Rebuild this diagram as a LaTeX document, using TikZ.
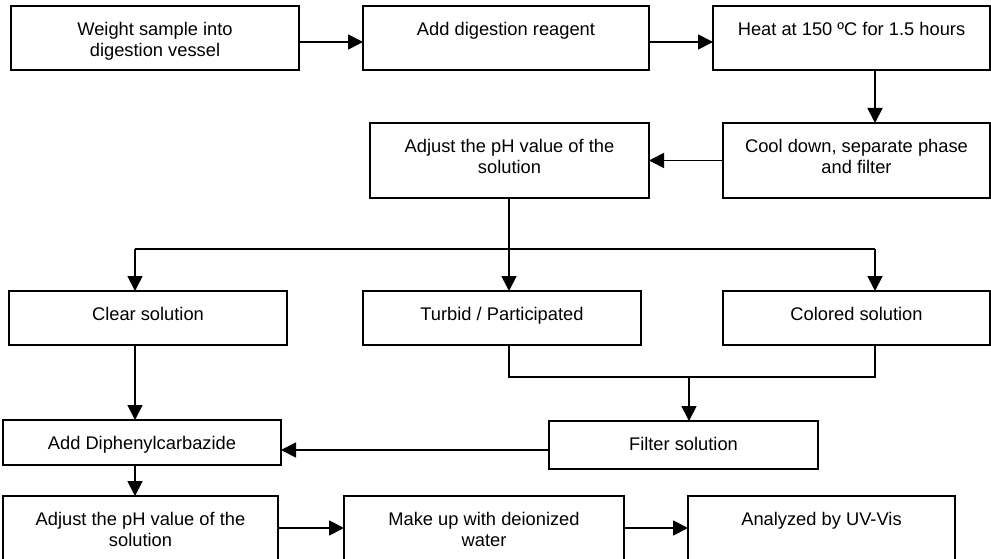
\documentclass[tikz,border=0pt]{standalone}
\usepackage{fontspec}
\setmainfont{Liberation Sans}
\usetikzlibrary{arrows.meta,fit}
\tikzset{
  boxst/.style={draw, line width=1.8pt, inner sep=0pt, outer sep=0pt},
  txt/.style={align=center, inner sep=0pt, anchor=north, font=\fontsize{18.3}{21}\selectfont},
  conn/.style={line width=1.8pt},
  arr/.style={conn, -{Triangle[length=15pt,width=15pt]}}
}
\newcommand{\flowbox}[6]{%
  \node[boxst, fit={(#2,#3) (#4,#5)}] (#1) {};
  \node[txt] (#1-t) at ([yshift=-16pt]#1.north) {#6};
}
\begin{document}
\begin{tikzpicture}[x=1pt,y=-1pt]
\clip (0,0) rectangle (991,559);
\fill[white] (0,0) rectangle (991,559);

\flowbox{b1}{11}{6}{299}{70}{Weight sample into\\digestion vessel}
\flowbox{b2}{363}{6}{649}{70}{Add digestion reagent}
\flowbox{b3}{713}{6}{990}{70}{Heat at 150 ºC for 1.5 hours}
\flowbox{cool}{723}{123}{990}{198}{Cool down, separate phase\\and filter}
\flowbox{adj1}{370}{123}{649}{198}{Adjust the pH value of the\\solution}
\flowbox{clear}{9}{291}{287}{345}{Clear solution}
\flowbox{turbid}{363}{291}{641}{345}{Turbid / Participated}
\flowbox{colored}{723}{291}{990}{345}{Colored solution}
\flowbox{filter}{549}{421}{818}{469}{Filter solution}
\flowbox{adddiph}{3}{420}{281}{465}{Add Diphenylcarbazide}
\flowbox{adj2}{3}{496}{278}{575}{Adjust the pH value of the\\solution}
\flowbox{makeup}{344}{496}{624}{575}{Make up with deionized\\water}
\flowbox{uv}{688}{496}{955}{575}{Analyzed by UV-Vis}

\coordinate (r1) at (0,42);
\coordinate (c3) at (875,0);
\coordinate (jL) at (135,249);
\coordinate (jM) at (509,249);
\coordinate (jR) at (875,249);
\coordinate (kL) at (509,377);
\coordinate (kM) at (689,377);
\coordinate (kR) at (875,377);
\coordinate (fy) at (0,450);
\coordinate (r5) at (0,528);

\draw[arr] (b1.east |- r1) -- (b2.west |- r1);
\draw[arr] (b2.east |- r1) -- (b3.west |- r1);
\draw[arr] (c3 |- b3.south) -- (c3 |- cool.north);
\draw[arr] (cool.west) -- (adj1.east);
\draw[arr] (jM |- adj1.south) -- (jM |- turbid.north);
\draw[conn] (jL) -- (jR);
\draw[arr] (jL) -- (jL |- clear.north);
\draw[arr] (jR) -- (jR |- colored.north);
\draw[conn] (kL |- turbid.south) -- (kL) -- (kR) -- (kR |- colored.south);
\draw[arr] (kM) -- (kM |- filter.north);
\draw[arr] (jL |- clear.south) -- (jL |- adddiph.north);
\draw[arr] (filter.west |- fy) -- (adddiph.east |- fy);
\draw[arr] (jL |- adddiph.south) -- (jL |- adj2.north);
\draw[arr] (adj2.east |- r5) -- (makeup.west |- r5);
\draw[arr] (makeup.east |- r5) -- (uv.west |- r5);
\end{tikzpicture}
\end{document}
